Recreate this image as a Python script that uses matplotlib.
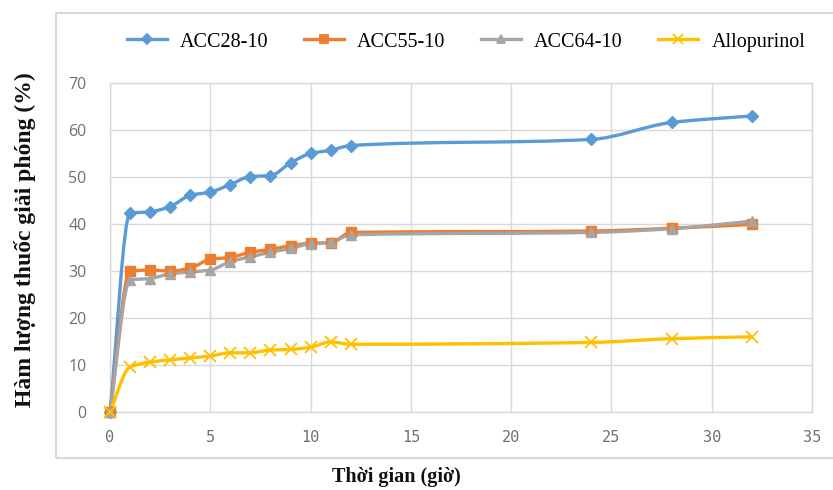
import matplotlib
matplotlib.use("Agg")
import matplotlib.pyplot as plt
from matplotlib.path import Path
from matplotlib.patches import PathPatch, Rectangle
from matplotlib.lines import Line2D
import numpy as np

# Release time (hours)
hours = [0, 1, 2, 3, 4, 5, 6, 7, 8, 9, 10, 11, 12, 24, 28, 32]

# Cumulative drug release (%)
acc28 = [0, 42.3, 42.6, 43.7, 46.1, 46.8, 48.4, 50.1, 50.3, 53.0, 55.0, 55.7, 56.7, 58.0, 61.6, 63.0]
acc55 = [0, 30.0, 30.2, 30.0, 30.6, 32.5, 32.9, 34.0, 34.6, 35.4, 35.9, 36.0, 38.2, 38.5, 39.1, 39.9]
acc64 = [0, 28.1, 28.4, 29.4, 29.8, 30.2, 32.0, 33.0, 34.0, 34.8, 35.8, 36.1, 37.7, 38.2, 39.0, 40.6]
allop = [0, 9.6, 10.6, 11.1, 11.5, 11.9, 12.6, 12.6, 13.2, 13.3, 13.8, 14.9, 14.4, 14.8, 15.6, 16.0]

names = ["ACC28-10", "ACC55-10", "ACC64-10", "Allopurinol"]
colors = ["#5B9BD5", "#ED7D31", "#A5A5A5", "#FFC000"]
markers = ["D", "s", "^", "x"]
msizes = [6.5, 7, 7, 9]

fig = plt.figure(figsize=(8.33, 4.9), dpi=100)
W, H = 833, 490

# Chart-area frame
frame = Rectangle((56 / W, 1 - 458 / H), (833 - 56) / W + 0.01, (458 - 13) / H,
                  transform=fig.transFigure, fill=False, edgecolor="#D9D9D9",
                  linewidth=1.5, zorder=0)
fig.add_artist(frame)

ax = fig.add_axes([110 / W, 1 - 412 / H, (812 - 110) / W, (412 - 83) / H])
ax.set_xlim(0, 35)
ax.set_ylim(0, 70)
ax.set_xticks(range(0, 36, 5))
ax.set_yticks(range(0, 71, 10))
ax.grid(True, color="#D9D9D9", linewidth=1.0)
ax.set_axisbelow(True)
for s in ax.spines.values():
    s.set_color("#D9D9D9")
    s.set_linewidth(1.0)
ax.tick_params(length=0, colors="#707070")
ax.tick_params(axis="x", pad=13, labelsize=11)
ax.tick_params(axis="y", pad=17, labelsize=11.5)
for lab in ax.get_xticklabels():
    lab.set_family("DejaVu Sans Mono")
for lab in ax.get_yticklabels():
    lab.set_family("Open Sans")


def smooth_path(xs, ys):
    """Monotone cubic (Fritsch-Carlson) curve through the points as Bezier segments."""
    x = np.asarray(xs, float)
    y = np.asarray(ys, float)
    n = len(x)
    h = np.diff(x)
    d = np.diff(y) / h
    m = np.zeros(n)
    m[0], m[-1] = d[0], d[-1]
    for i in range(1, n - 1):
        if d[i - 1] * d[i] <= 0:
            m[i] = 0.0
        else:
            w1 = 2 * h[i] + h[i - 1]
            w2 = h[i] + 2 * h[i - 1]
            m[i] = (w1 + w2) / (w1 / d[i - 1] + w2 / d[i])
    verts = [(x[0], y[0])]
    codes = [Path.MOVETO]
    for i in range(n - 1):
        c1 = (x[i] + h[i] / 3, y[i] + m[i] * h[i] / 3)
        c2 = (x[i + 1] - h[i] / 3, y[i + 1] - m[i + 1] * h[i] / 3)
        verts += [c1, c2, (x[i + 1], y[i + 1])]
        codes += [Path.CURVE4] * 3
    return Path(verts, codes)


handles = []
for ys, name, c, m, ms in zip([acc28, acc55, acc64, allop], names, colors, markers, msizes):
    patch = PathPatch(smooth_path(hours, ys), facecolor="none", edgecolor=c,
                      linewidth=2.4, zorder=3, clip_on=False)
    ax.add_patch(patch)
    if m == "x":
        ax.plot(hours, ys, linestyle="none", marker=m, markersize=ms, color=c,
                markeredgewidth=1.3, zorder=4, clip_on=False)
    else:
        ax.plot(hours, ys, linestyle="none", marker=m, markersize=ms, color=c,
                markeredgecolor=c, zorder=4, clip_on=False)
    handles.append(Line2D([], [], color=c, linewidth=2.4, marker=m,
                          markersize=ms * 0.75, markeredgewidth=1.3))

fig.legend(handles, names, loc="center", bbox_to_anchor=(466 / W, 1 - 42 / H),
           ncol=4, frameon=False, handlelength=2.0, columnspacing=1.75,
           handletextpad=0.65, prop={"family": "Liberation Serif", "size": 14.5})

fig.text(25 / W, 1 - 240 / H, "Hàm lượng thuốc giải phóng (%)", rotation=90,
         ha="center", va="center", family="Liberation Serif", weight="bold",
         fontsize=17, color="#111111")
fig.text(396 / W, 1 - 477 / H, "Thời gian (giờ)", ha="center", va="center",
         family="Liberation Serif", weight="bold", fontsize=14.5, color="#111111")

fig.savefig("out.png", dpi=100)
